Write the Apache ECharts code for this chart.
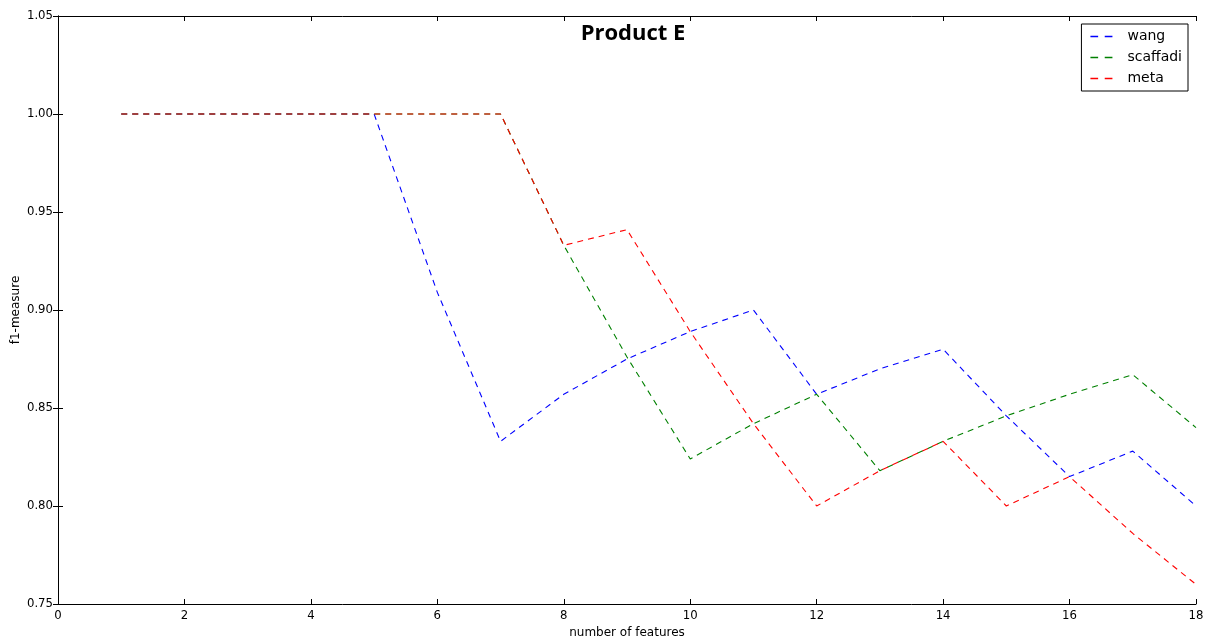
<!DOCTYPE html>
<html>
<head>
<meta charset="utf-8">
<script src="https://cdn.jsdelivr.net/npm/echarts@6/dist/echarts.min.js"></script>
<style>
  html, body { margin: 0; padding: 0; background: #fff; }
  #chart { width: 1216px; height: 644px; }
</style>
</head>
<body>
<div id="chart"></div>
<script>
// Number of features (x values)
const features = [1, 2, 3, 4, 5, 6, 7, 8, 9, 10, 11, 12, 13, 14, 15, 16, 17, 18];

// f1-measure per method
const wang     = [1.0, 1.0, 1.0, 1.0, 1.0, 0.909, 0.833, 0.857, 0.875, 0.889, 0.900, 0.857, 0.870, 0.880, 0.846, 0.815, 0.828, 0.800];
const scaffadi = [1.0, 1.0, 1.0, 1.0, 1.0, 1.0, 1.0, 0.933, 0.876, 0.824, 0.842, 0.857, 0.818, 0.833, 0.846, 0.857, 0.867, 0.840];
const meta     = [1.0, 1.0, 1.0, 1.0, 1.0, 1.0, 1.0, 0.933, 0.941, 0.889, 0.842, 0.800, 0.818, 0.833, 0.800, 0.815, 0.786, 0.760];

const seriesDefs = [
  { name: 'wang', values: wang, color: '#0000ff' },
  { name: 'scaffadi', values: scaffadi, color: '#008000' },
  { name: 'meta', values: meta, color: '#ff0000' }
];

const FONT = 'DejaVu Sans';
const TICK_FONT = "'DejaVu Sans Condensed', 'DejaVu Sans'";
const chart = echarts.init(document.getElementById('chart'), null, { renderer: 'canvas' });

const axisLine = { show: true, lineStyle: { color: '#000', width: 1 } };
const tickIn = { show: true, inside: true, length: 5, lineStyle: { color: '#000' } };
// two short dashes as the legend sample
const dashIcon = 'path://M0,0H7V1.4H0Z M13,0H20V1.4H13Z';

chart.setOption({
  animation: false,
  backgroundColor: '#fff',
  title: {
    text: 'Product E',
    left: 628, top: 18, textAlign: 'center',
    textStyle: { fontFamily: 'Open Sans', fontWeight: 'bold', fontSize: 22, color: '#000' }
  },
  legend: {
    right: 28, top: 24,
    orient: 'vertical',
    backgroundColor: '#fff',
    borderColor: '#000', borderWidth: 1, borderRadius: 0,
    padding: [5, 6, 5, 9],
    itemGap: 6,
    icon: dashIcon,
    itemWidth: 22, itemHeight: 2,
    textStyle: { fontFamily: FONT, fontSize: 14, color: '#000', padding: [0, 0, 0, 10], lineHeight: 15 },
    data: seriesDefs.map(s => s.name)
  },
  grid: { left: 58, top: 16, width: 1138, height: 588, containLabel: false, outerBoundsMode: 'none' },
  xAxis: [
    {
      type: 'value', min: 0, max: 18, interval: 2,
      name: 'number of features', nameLocation: 'middle', nameGap: 23, nameMoveOverlap: false,
      nameTextStyle: { fontFamily: FONT, fontSize: 12, color: '#000' },
      axisLine, axisTick: tickIn, splitLine: { show: false },
      axisLabel: { fontFamily: TICK_FONT, fontSize: 13, color: '#000', margin: 5 }
    },
    {
      type: 'value', min: 0, max: 18, interval: 2, position: 'top',
      axisLine, axisTick: tickIn, splitLine: { show: false }, axisLabel: { show: false }
    }
  ],
  yAxis: [
    {
      type: 'value', min: 0.75, max: 1.05, interval: 0.05,
      name: 'f1-measure', nameLocation: 'middle', nameGap: 36, nameRotate: 90, nameMoveOverlap: false,
      nameTextStyle: { fontFamily: FONT, fontSize: 12, color: '#000' },
      axisLine, axisTick: tickIn, splitLine: { show: false },
      axisLabel: { fontFamily: TICK_FONT, fontSize: 13, color: '#000', margin: 5, formatter: v => v.toFixed(2) }
    },
    {
      type: 'value', min: 0.75, max: 1.05, interval: 0.05, position: 'right',
      axisLine, axisTick: tickIn, splitLine: { show: false }, axisLabel: { show: false }
    }
  ],
  series: seriesDefs.map(s => ({
    name: s.name,
    type: 'line',
    data: features.map((f, i) => [f, s.values[i]]),
    showSymbol: false, symbol: 'none',
    color: s.color,
    lineStyle: { color: s.color, width: 1.1, type: [6, 5] },
    itemStyle: { color: s.color }
  }))
});
</script>
</body>
</html>
